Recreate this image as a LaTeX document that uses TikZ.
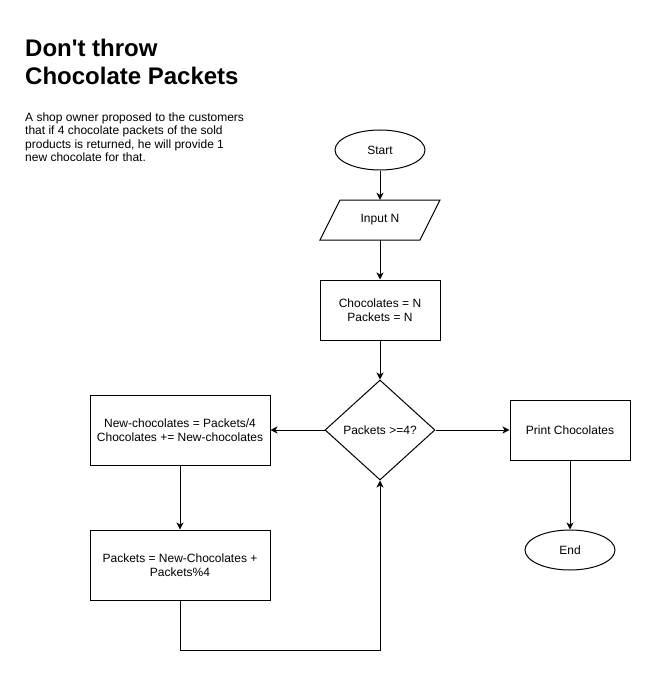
\documentclass[tikz,border=0pt]{standalone}
\usepackage{fontspec}
\setmainfont{Liberation Sans}[Ligatures=TeXOff]
\usetikzlibrary{shapes.geometric,arrows.meta}
\begin{document}
\begin{tikzpicture}[x=1pt,y=-1pt,
  every node/.style={font=\fontsize{12}{14.4}\selectfont, text=black},
  base/.style={draw=black, line width=1pt, inner sep=0pt, align=center},
  terminal/.style={base, ellipse, minimum width=90pt, minimum height=40pt},
  procbox/.style={base, rectangle},
  decision/.style={base, diamond, minimum width=110pt, minimum height=100pt},
  arr/.style={draw=black, line width=1pt, -{Stealth[length=7pt,width=7pt,inset=2pt]}},
  line/.style={draw=black, line width=1pt},
  titletext/.style={anchor=base west, inner sep=0pt, font=\fontsize{24}{28}\selectfont\bfseries},
  bodytext/.style={anchor=base west, inner sep=0pt, font=\fontsize{12}{13.4}\selectfont}
]
\useasboundingbox (0,0) rectangle (651,679);
\fill[white] (0,0) rectangle (651,679);

% title and description
\node[titletext] (t1) at (25,57) {Don't throw};
\node[titletext] (t2) at (25,85) {Chocolate Packets};
\node[bodytext] (d1) at (25,121.7) {A shop owner proposed to the customers};
\node[bodytext] (d2) at (25,135) {that if 4 chocolate packets of the sold};
\node[bodytext] (d3) at (25,148.3) {products is returned, he will provide 1};
\node[bodytext] (d4) at (25,161.7) {new chocolate for that.};

% flowchart nodes
\node[terminal] (start) at (380,150) {Start};
\node[inner sep=0pt, minimum width=120pt, minimum height=40pt] (input) at (380,220) {Input N};
\draw[line] (340,200) -- (440,200) -- (420,240) -- (320,240) -- cycle;
\node[procbox, minimum width=120pt, minimum height=60pt] (init) at (380,310) {Chocolates = N\\Packets = N};
\node[decision] (dec) at (380,430) {Packets >=4?};
\node[procbox, minimum width=180pt, minimum height=70pt] (calc) at (180,430) {New-chocolates = Packets/4\\Chocolates += New-chocolates};
\node[procbox, minimum width=180pt, minimum height=70pt] (upd) at (180,565) {Packets = New-Chocolates +\\Packets\%4};
\node[procbox, minimum width=120pt, minimum height=60pt] (print) at (570,430) {Print Chocolates};
\node[terminal] (end) at (570,550) {End};
\coordinate (loop) at (380,650);

% connectors
\draw[arr] (start.south) -- (input.north);
\draw[arr] (input.south) -- (init.north);
\draw[arr] (init.south) -- (dec.north);
\draw[arr] (dec.west) -- (calc.east);
\draw[arr] (dec.east) -- (print.west);
\draw[arr] (print.south) -- (end.north);
\draw[arr] (calc.south) -- (upd.north);
\draw[arr] (upd.south) |- (loop) -- (dec.south);
\end{tikzpicture}
\end{document}
